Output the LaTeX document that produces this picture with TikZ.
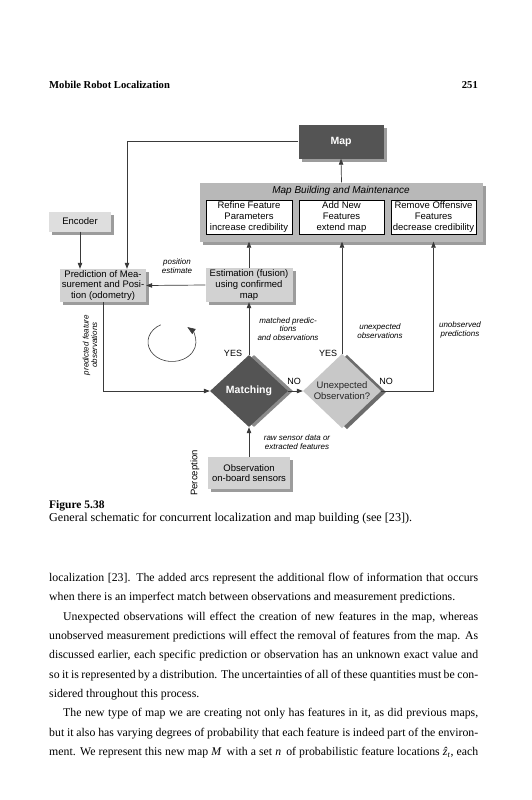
\documentclass[tikz,border=0pt]{standalone}
\usepackage{fontspec}
\setmainfont{Liberation Serif}
\setsansfont{Liberation Sans}
\usetikzlibrary{shapes.geometric,arrows.meta,shadows}
\definecolor{darkfill}{HTML}{545454}
\definecolor{lightfill}{HTML}{D2D2D2}
\definecolor{encfill}{HTML}{DEDEDE}
\definecolor{mbmfill}{HTML}{B8B8B8}
\definecolor{shadowcol}{HTML}{9C9C9C}
\definecolor{dshadowA}{HTML}{8A8A8A}
\definecolor{unexfill}{HTML}{C8C8C8}
\definecolor{dshadowB}{HTML}{6C6C6C}
\definecolor{linecol}{HTML}{3A3A3A}
\begin{document}
\begin{tikzpicture}[x=1pt,y=-1pt,
  box/.style={font=\sffamily\fontsize{9.5}{10.8}\selectfont, align=center, inner sep=0pt, fill=lightfill,
    drop shadow={shadow xshift=3pt,shadow yshift=-3pt,fill=shadowcol,opacity=1}},
  wbox/.style={font=\sffamily\fontsize{9.5}{10.8}\selectfont, align=center, inner sep=0pt, fill=white, draw=black, line width=0.6pt},
  lab/.style={font=\sffamily\itshape\fontsize{8}{8.6}\selectfont, align=center, inner sep=0pt},
  yn/.style={font=\sffamily\fontsize{9}{10}\selectfont, inner sep=0pt},
  arr/.style={draw=linecol, line width=0.7pt, -{Triangle[length=6pt,width=4.5pt]}},
  body/.style={font=\fontsize{11.8}{14}\selectfont, anchor=base west, inner sep=0pt},
  diam/.style={diamond, minimum width=78pt, minimum height=72pt, inner sep=0pt, align=center}
]
\useasboundingbox (0,0) rectangle (531,800);
\fill[white] (0,0) rectangle (531,800);

% header
\node[font=\bfseries\fontsize{10.6}{12}\selectfont, anchor=base west, inner sep=0pt] (hd) at (49,88.5) {Mobile Robot Localization};
\node[font=\bfseries\fontsize{10.6}{12}\selectfont, anchor=base east, inner sep=0pt] (pg) at (478,88.5) {251};

% diagram nodes
\node[box, fill=darkfill, text=white, font=\sffamily\bfseries\fontsize{10.5}{12}\selectfont, minimum width=85pt, minimum height=34pt] (map) at (341,141.5) {Map};
\node[box, fill=mbmfill, minimum width=283pt, minimum height=59pt] (mbm) at (341.5,212) {};
\node[font=\sffamily\itshape\fontsize{10}{12}\selectfont, inner sep=0pt] (mbmt) at (341,191) {Map Building and Maintenance};
\node[wbox, minimum width=86pt, minimum height=34pt] (refine) at (249,217) {Refine Feature\\Parameters\\increase credibility};
\node[wbox, minimum width=85pt, minimum height=34pt] (addnew) at (341.5,217) {Add New\\Features\\extend map};
\node[wbox, minimum width=85pt, minimum height=34pt] (remove) at (433.5,217) {Remove Offensive\\Features\\decrease credibility};

\node[box, fill=encfill, minimum width=62pt, minimum height=20pt] (enc) at (80,221.5) {Encoder};
\node[box, minimum width=86pt, minimum height=33pt] (pred) at (103,285.5) {Prediction of Mea-\\surement and Posi-\\tion (odometry)};
\node[box, minimum width=87pt, minimum height=34pt] (est) at (249,285) {Estimation (fusion)\\using confirmed\\map};
\node[box, minimum width=82pt, minimum height=32pt] (obs) at (249,473) {Observation\\on-board sensors};

\node[diam, fill=darkfill, text=white, font=\sffamily\bfseries\fontsize{10.5}{12}\selectfont,
  drop shadow={shadow xshift=5pt,shadow yshift=0pt,fill=dshadowA,opacity=1}] (match) at (249,391) {Matching};
\node[diam, fill=unexfill, text=black!85, font=\sffamily\fontsize{9.5}{10.8}\selectfont,
  drop shadow={shadow xshift=5pt,shadow yshift=-1pt,fill=dshadowB,opacity=1}] (unexp) at (342,391) {Unexpected\\Observation?};

% connectors
\draw[arr] (map.west) -| ([xshift=24pt]pred.north);
\draw[arr] (enc.south) -- (enc.south |- pred.north);
\draw[arr] (mbm.north) -- (map.south);
\draw[arr] (est.north) -- (est.north |- mbm.south);
\draw[arr] (est.west) -- (pred.east);
\draw[arr] (match.north) -- (est.south);
\draw[arr] (pred.south) |- (match.west);
\draw[arr] (match.east) -- (unexp.west);
\draw[arr] (unexp.north) -- (unexp.north |- mbm.south);
\draw[arr] (unexp.east) -| (remove.south |- mbm.south);
\draw[arr] (obs.north) -- (match.south);

% circular arrow
\draw[draw=linecol, line width=0.6pt, -{Triangle[length=8pt,width=6pt]}] (160.7,324.8) arc[start angle=118, end angle=410, x radius=24pt, y radius=19.5pt];

% labels
\node[lab] (posl) at (177,266) {position\\estimate};
\node[lab] (mpl) at (288,329) {matched predic-\\tions\\and observations};
\node[lab] (uol) at (380,331) {unexpected\\observations};
\node[lab] (upl) at (460,330) {unobserved\\predictions};
\node[lab] (rsl) at (297,442) {raw sensor data or\\extracted features};
\node[lab, rotate=90] (pfl) at (90,345) {predicted feature\\observations};
\node[font=\sffamily\fontsize{9.5}{10.8}\selectfont, inner sep=0pt, rotate=90] (perc) at (195,473) {Perception};
\node[yn] (yes1) at (233,353) {YES};
\node[yn] (yes2) at (328,353) {YES};
\node[yn] (no1) at (294,381) {NO};
\node[yn] (no2) at (386,381) {NO};

% caption
\node[font=\bfseries\fontsize{11.5}{13}\selectfont, anchor=base west, inner sep=0pt] (figno) at (49,508.5) {Figure 5.38};
\node[font=\fontsize{12.15}{13}\selectfont, anchor=base west, inner sep=0pt] (cap) at (49,521.5) {General schematic for concurrent localization and map building (see [23]).};

% body text
\node[body] (l1) at (49,581.5) {\makebox[429pt][s]{localization [23]. The added arcs represent the additional flow of information that occurs}};
\node[body] (l2) at (49,600.8) {when there is an imperfect match between observations and measurement predictions.};
\node[body] (l3) at (49,620.2) {\makebox[429pt][s]{\hspace*{14pt}Unexpected observations will effect the creation of new features in the map, whereas}};
\node[body] (l4) at (49,639.5) {\makebox[429pt][s]{unobserved measurement predictions will effect the removal of features from the map. As}};
\node[body] (l5) at (49,658.8) {\makebox[429pt][s]{discussed earlier, each specific prediction or observation has an unknown exact value and}};
\node[body] (l6) at (49,678.2) {\makebox[429pt][s]{so it is represented by a distribution. The uncertainties of all of these quantities must be con-}};
\node[body] (l7) at (49,697.5) {sidered throughout this process.};
\node[body] (l8) at (49,716.8) {\makebox[429pt][s]{\hspace*{14pt}The new type of map we are creating not only has features in it, as did previous maps,}};
\node[body] (l9) at (49,736.2) {\makebox[429pt][s]{but it also has varying degrees of probability that each feature is indeed part of the environ-}};
\node[body] (l10) at (49,755.5) {\makebox[429pt][s]{ment. We represent this new map \textit{M}\, with a set \textit{n}\, of probabilistic feature locations \textit{\^{z}}\textsubscript{\textit{t}}, each}};
\end{tikzpicture}
\end{document}
